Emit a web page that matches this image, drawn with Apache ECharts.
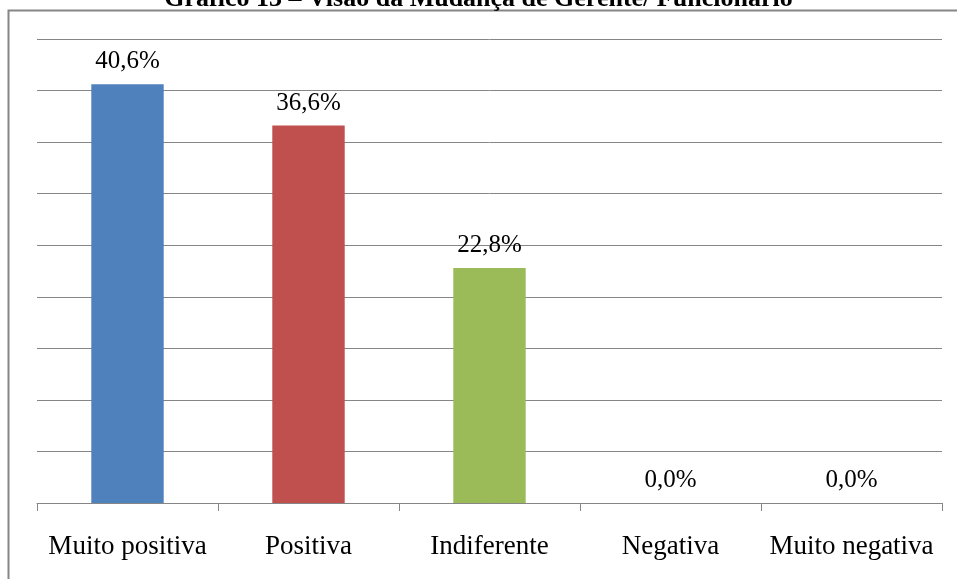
<!DOCTYPE html>
<html>
<head>
<meta charset="utf-8">
<script src="https://cdn.jsdelivr.net/npm/echarts@6/dist/echarts.min.js"></script>
<style>
  html, body { margin: 0; padding: 0; background: #fff; }
  #chart { width: 957px; height: 579px; }
</style>
</head>
<body>
<div id="chart"></div>
<script>
// dados do gráfico
var categorias = ['Muito positiva', 'Positiva', 'Indiferente', 'Negativa', 'Muito negativa'];
var valores = [40.6, 36.6, 22.8, 0.0, 0.0];
var cores = ['#4F81BD', '#C0504D', '#9BBB59', '#8064A2', '#4BACC6'];
var titulo = 'Gráfico 13 – Visão da Mudança de Gerente/ Funcionário';

var fonte = '"Liberation Serif", "Times New Roman", serif';

var myChart = echarts.init(document.getElementById('chart'));
myChart.setOption({
  animation: false,
  title: {
    text: titulo,
    left: 'center',
    top: -19,
    textStyle: { fontFamily: fonte, fontWeight: 'bold', fontSize: 26, color: '#000' }
  },
  graphic: [{
    type: 'rect',
    shape: { x: 8.5, y: 10.5, width: 1000, height: 600 },
    style: { fill: null, stroke: '#868686', lineWidth: 2 }
  }],
  grid: { left: 37, right: 15, top: 39, bottom: 76 },
  xAxis: {
    type: 'category',
    data: categorias,
    axisLine: { lineStyle: { color: '#868686', width: 1 } },
    axisTick: { show: true, length: 8, lineStyle: { color: '#868686' } },
    axisLabel: { interval: 0, fontFamily: fonte, fontSize: 27, color: '#000', margin: 30 }
  },
  yAxis: {
    type: 'value',
    min: 0,
    max: 45,
    interval: 5,
    axisLabel: { show: false },
    axisLine: { show: false },
    axisTick: { show: false },
    splitLine: { lineStyle: { color: '#868686', width: 1 } }
  },
  series: [{
    type: 'bar',
    barWidth: '40%',
    data: valores.map(function (v, i) {
      return { value: v, itemStyle: { color: cores[i] } };
    }),
    label: {
      show: true,
      position: 'top',
      distance: 10,
      fontFamily: fonte,
      fontSize: 25,
      color: '#000',
      formatter: function (p) { return p.value.toFixed(1).replace('.', ',') + '%'; }
    }
  }]
});
</script>
</body>
</html>
